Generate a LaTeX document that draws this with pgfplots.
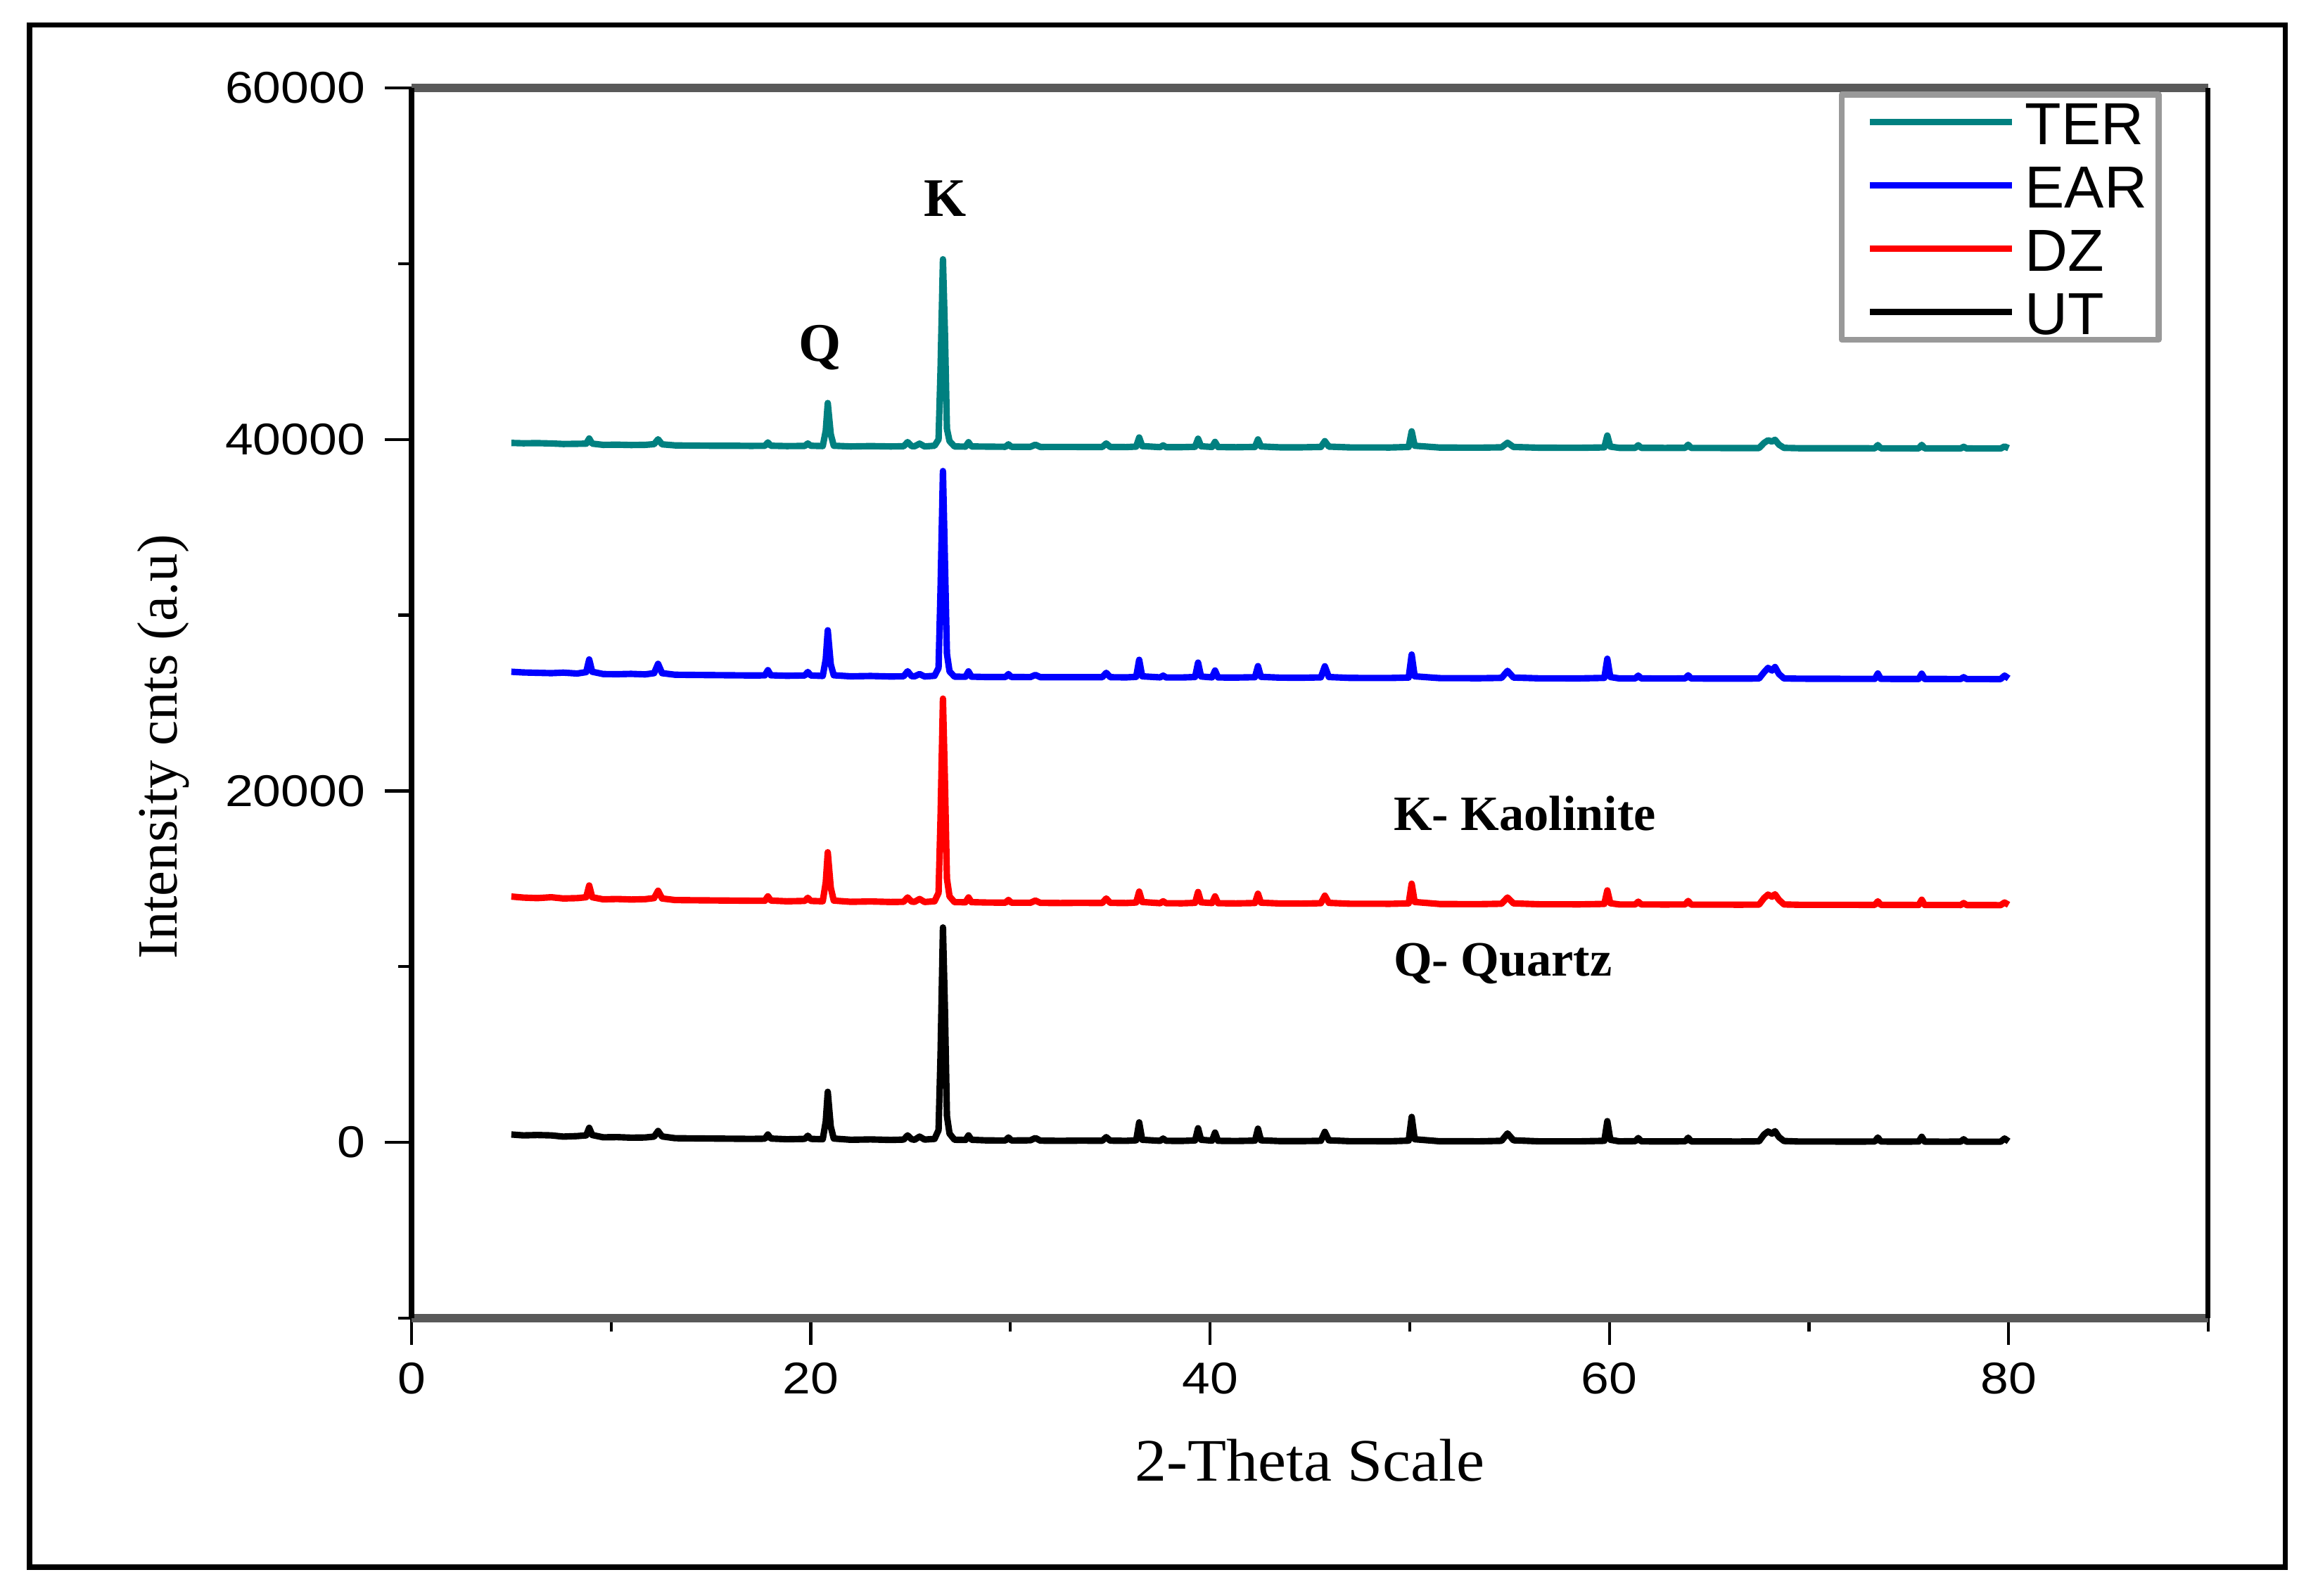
\documentclass[border=0pt]{standalone}
\usepackage{pgfplots}
\pgfplotsset{compat=1.18}
\usepackage{pgfplotstable}
\usepackage{fontspec}
\setmainfont{Liberation Serif}
\newfontfamily\arial{Liberation Sans}
\definecolor{terteal}{RGB}{0,128,128}

% 2-theta, then intensity of UT, DZ, EAR, TER (stacked offsets as drawn)
\pgfplotstableread{
x ut dz ear ter
5.0 450 13990 26780 39800
5.6 400 13930 26740 39780
6.3 420 13900 26720 39790
7.0 400 13950 26700 39770
7.6 330 13880 26730 39740
8.3 360 13900 26680 39750
8.75 400 13950 26760 39760
8.9 830 14620 27480 40050
9.05 420 13950 26780 39760
9.6 290 13830 26650 39690
10.3 300 13850 26640 39700
11.0 270 13820 26660 39680
11.7 280 13840 26630 39690
12.15 330 13900 26700 39730
12.35 650 14320 27230 40010
12.55 340 13880 26700 39720
13.2 240 13790 26610 39660
14.0 230 13780 26600 39650
15.0 220 13770 26590 39640
16.0 210 13760 26580 39640
17.0 200 13750 26570 39630
17.7 210 13750 26575 39635
17.85 450 14000 26870 39830
18.0 220 13760 26580 39640
18.8 180 13720 26550 39620
19.7 200 13740 26570 39630
19.85 380 13920 26770 39770
20.0 200 13740 26570 39640
20.6 180 13720 26540 39620
20.75 1200 14800 27500 40500
20.85 2880 16510 29140 42070
21.0 900 14500 27200 40300
21.15 220 13760 26580 39640
22.0 150 13690 26520 39600
23.0 170 13710 26540 39620
24.0 140 13680 26510 39600
24.65 160 13690 26520 39610
24.85 400 13940 26810 39850
25.05 180 13700 26530 39620
25.2 150 13690 26520 39610
25.45 330 13850 26650 39760
25.7 160 13680 26510 39600
26.2 200 13720 26550 39640
26.4 700 14200 27000 40000
26.5 5000 18500 31500 44000
26.62 12230 25250 38200 50250
26.72 7500 20500 33000 46000
26.82 1500 15000 27800 40600
26.95 500 14000 26800 39900
27.2 150 13670 26500 39600
27.75 140 13664 26496 39590
27.9 400 13940 26800 39840
28.05 150 13670 26500 39600
28.8 115 13650 26480 39590
29.75 110 13640 26480 39580
29.9 280 13800 26650 39720
30.05 110 13640 26480 39580
31.0 120 13636 26477 39578
31.25 250 13760 26600 39700
31.5 100 13630 26470 39570
32.5 90 13620 26472 39575
33.5 100 13630 26470 39570
34.6 95 13620 26470 39570
34.8 300 13880 26720 39770
35.0 100 13630 26470 39570
35.8 90 13620 26460 39565
36.3 120 13650 26490 39590
36.45 1140 14270 27460 40110
36.6 150 13680 26520 39620
37.5 90 13610 26460 39560
37.65 220 13720 26560 39660
37.8 90 13610 26455 39560
38.6 85 13605 26455 39560
39.25 110 13630 26480 39580
39.4 805 14250 27300 40040
39.55 150 13660 26510 39610
40.1 100 13620 26460 39570
40.25 560 14000 26850 39860
40.4 90 13610 26455 39565
41.3 80 13600 26450 39555
42.25 100 13620 26470 39570
42.4 780 14150 27100 40000
42.55 120 13640 26490 39600
43.5 75 13595 26445 39550
44.6 75 13590 26440 39550
45.55 90 13610 26460 39570
45.75 600 14040 27090 39900
45.95 120 13630 26480 39590
47.0 70 13580 26430 39545
48.0 70 13580 26425 39545
49.0 65 13575 26425 39540
49.95 100 13600 26450 39570
50.1 1450 14720 27760 40460
50.25 180 13680 26520 39640
51.5 65 13565 26418 39538
52.5 65 13560 26415 39535
53.5 62 13558 26412 39532
54.6 90 13580 26430 39550
54.9 510 13935 26830 39810
55.2 120 13600 26450 39570
56.5 60 13550 26405 39528
57.5 60 13548 26404 39525
58.5 60 13545 26402 39523
59.75 90 13570 26430 39545
59.9 1210 14340 27520 40220
60.05 150 13610 26480 39590
60.5 60 13540 26400 39520
61.3 70 13540 26400 39520
61.45 250 13700 26560 39670
61.6 60 13540 26400 39520
62.8 55 13535 26395 39515
63.8 60 13540 26400 39520
63.95 270 13740 26580 39700
64.1 55 13530 26395 39515
65.2 55 13530 26392 39512
66.5 52 13525 26390 39508
67.5 60 13530 26395 39510
67.75 450 13900 26750 39800
67.95 620 14100 27000 39950
68.15 500 13980 26850 39880
68.3 640 14120 27050 39980
68.5 300 13800 26650 39700
68.75 80 13540 26400 39520
69.5 50 13520 26385 39500
70.5 50 13520 26380 39500
71.5 48 13518 26378 39498
72.5 47 13516 26376 39496
73.3 50 13515 26375 39495
73.45 280 13720 26680 39680
73.6 50 13515 26375 39495
74.5 45 13512 26372 39492
75.5 50 13510 26370 39490
75.65 320 13810 26670 39690
75.8 45 13510 26370 39490
76.8 42 13507 26368 39488
77.6 45 13506 26367 39487
77.75 180 13620 26470 39580
77.9 42 13505 26366 39486
78.8 41 13502 26364 39484
79.6 40 13500 26362 39482
79.8 220 13650 26560 39600
80.0 60 13520 26400 39500
}\xrd

\begin{document}
\begin{tikzpicture}
\path[use as bounding box] (-2.925,-1.975) rectangle (13.55,9.37);
\draw[line width=1pt] (-2.715,-1.77) rectangle (13.315,9.19);
\begin{axis}[
    at={(0,0)}, anchor=south west,
    scale only axis,
    width=12.77cm, height=8.745cm,
    xmin=0, xmax=90,
    ymin=-10000, ymax=60000,
    xtick={0,20,40,60,80},
    minor xtick={10,30,50,70,90},
    ytick={0,20000,40000,60000},
    minor ytick={-10000,10000,30000,50000},
    scaled y ticks=false,
    tick pos=left,
    tick align=outside,
    major tick length=0.19cm,
    minor tick length=0.095cm,
    tick style={black, line width=0.6pt},
    separate axis lines,
    every outer x axis line/.append style={line width=1.7pt, black!65},
    every outer y axis line/.append style={line width=1pt, black},
    /pgf/number format/assume math mode=true,
    /pgf/number format/1000 sep={},
    tick label style={font=\arial\fontsize{9}{11}\selectfont, xscale=1.13},
    xlabel={2-Theta Scale},
    ylabel={Intensity cnts (a.u)},
    xlabel style={font=\fontsize{12.2}{15}\selectfont, xscale=1.05},
    ylabel style={font=\fontsize{11.5}{14}\selectfont},
    every axis x label/.append style={at={(axis description cs:0.5,-0.1154)}, anchor=center},
    every axis y label/.append style={at={(axis description cs:-0.1382,0.4643)}, anchor=center},
    legend style={at={(rel axis cs:0.974,0.997)}, anchor=north east,
        draw=black!40, line width=1.2pt, fill=white,
        font=\arial\fontsize{12}{14}\selectfont,
        inner xsep=5pt, inner ysep=0.6pt, row sep=2.8pt,
        /tikz/every odd column/.append style={column sep=2pt},
        nodes={inner xsep=0pt, inner ysep=0.5pt, text height=9pt, text depth=0pt}},
    legend cell align=left,
    legend image code/.code={\draw[#1, line width=1.3pt] (0cm,0cm) -- (1.01cm,0cm);},
    line join=round,
]
\addplot[terteal, line width=1.3pt, no markers] table[x=x, y=ter] {\xrd};
\addlegendentry{\makebox[22pt][l]{TER}}
\addplot[blue, line width=1.3pt, no markers] table[x=x, y=ear] {\xrd};
\addlegendentry{\makebox[22pt][l]{EAR}}
\addplot[red, line width=1.3pt, no markers] table[x=x, y=dz] {\xrd};
\addlegendentry{\makebox[22pt][l]{DZ}}
\addplot[black, line width=1.3pt, no markers] table[x=x, y=ut] {\xrd};
\addlegendentry{\makebox[22pt][l]{UT}}

\node[font=\bfseries\fontsize{11}{13}\selectfont, anchor=base] at (axis cs:20.47,44440) {Q};
\node[font=\bfseries\fontsize{11}{13}\selectfont, anchor=base] at (axis cs:26.74,52680) {K};
\node[font=\bfseries\fontsize{10}{12}\selectfont, anchor=base west, inner sep=0pt] at (axis cs:49.15,17760) {K- Kaolinite};
\node[font=\bfseries\fontsize{10}{12}\selectfont, anchor=base west, inner sep=0pt] at (axis cs:49.15,9480) {Q- Quartz};
\end{axis}
\end{tikzpicture}
\end{document}
